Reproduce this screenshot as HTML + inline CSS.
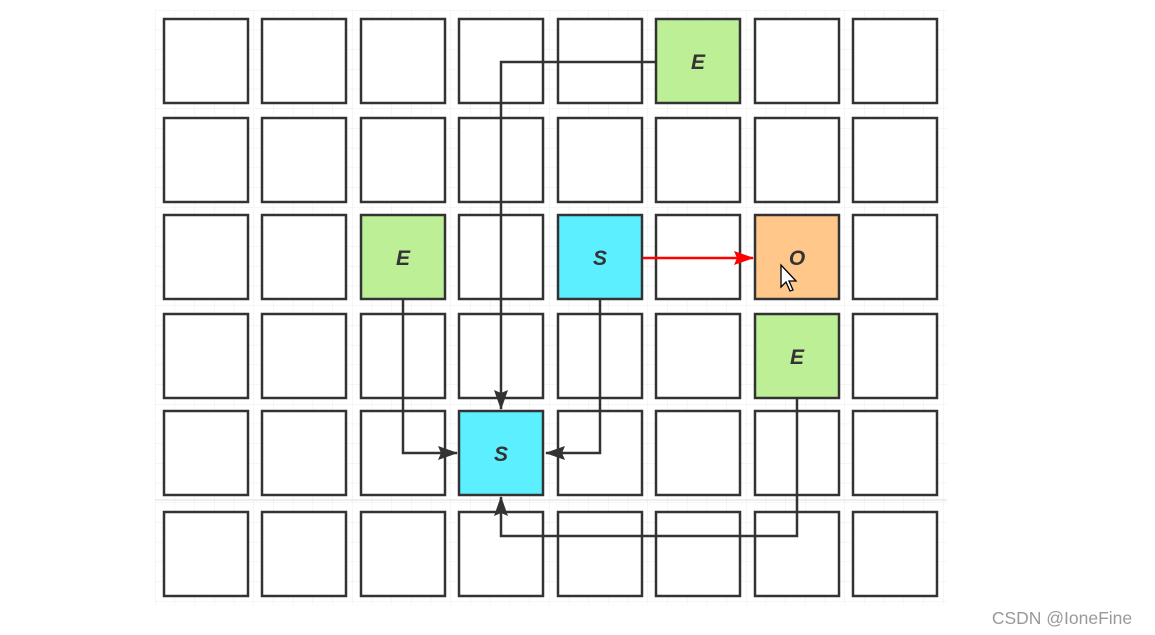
<!DOCTYPE html>
<html><head><meta charset="utf-8"><style>
html,body{margin:0;padding:0;background:#fff;}
body{width:1155px;height:635px;overflow:hidden;position:relative;}
</style></head><body>
<svg width="1155" height="635" xmlns="http://www.w3.org/2000/svg" style="position:absolute;left:0;top:0">
<defs>
<pattern id="g" width="19.7" height="19.7" patternUnits="userSpaceOnUse" x="155" y="10">
<path d="M0 0H19.7M0 0V19.7" stroke="#ececec" stroke-width="1" fill="none"/>
</pattern>
<marker id="r" markerWidth="20" markerHeight="14" refX="19" refY="7" orient="auto" markerUnits="userSpaceOnUse"><path d="M0,0 L20,7 L0,14 L3,7z" fill="#f00"/></marker>
<marker id="b" markerWidth="20" markerHeight="14" refX="19" refY="7" orient="auto" markerUnits="userSpaceOnUse"><path d="M0,0 L20,7 L0,14 L3,7z" fill="#333"/></marker>
</defs>
<rect x="155" y="10" width="792" height="595" fill="url(#g)"/>
<line x1="155" y1="500" x2="947" y2="500" stroke="#ddd"/>
<g stroke="#333" stroke-width="2.5" fill="#fff">
<g id="cells">
</g>
</g>
<g stroke="#333" stroke-width="2.5" fill="none">
<polyline points="656,62 501,62 501,409" marker-end="url(#b)"/>
<polyline points="403,300 403,453 457,453" marker-end="url(#b)"/>
<polyline points="600,300 600,453 546,453" marker-end="url(#b)"/>
<polyline points="797,399 797,536 501,536 501,497" marker-end="url(#b)"/>
</g>
<line x1="643" y1="258" x2="753" y2="258" stroke="#f00" stroke-width="2.5" marker-end="url(#r)"/>
<path d="M781,265 L781,287 L786,282 L790,291 L793,290 L789,281 L796,281 Z" fill="#fff" stroke="#000" stroke-width="1.3"/>
<text x="1062" y="624" font-family="Liberation Sans, sans-serif" font-size="17.5" fill="#999" text-anchor="middle">CSDN @IoneFine</text>
</svg>
<script>
var xs=[164,262,361,459,558,656,755,853],ys=[19,118,215,314,411,512];
var sp={"5,0":["#bdef96","E"],"2,2":["#bdef96","E"],"4,2":["#5cefff","S"],"6,2":["#ffc88a","O"],"6,3":["#bdef96","E"],"3,4":["#5cefff","S"]};
var g=document.getElementById("cells"),s="";
for(var r=0;r<6;r++)for(var c=0;c<8;c++){var k=c+","+r,f=sp[k]?sp[k][0]:"#fff";
s+='<rect x="'+xs[c]+'" y="'+ys[r]+'" width="84" height="84" fill="'+f+'"/>';
if(sp[k])s+='<text x="'+(xs[c]+42)+'" y="'+(ys[r]+50)+'" text-anchor="middle" stroke="none" fill="#333" font-family="Liberation Sans, sans-serif" font-weight="bold" font-style="italic" font-size="21">'+sp[k][1]+'</text>';}
g.innerHTML=s;
</script>
</body></html>
